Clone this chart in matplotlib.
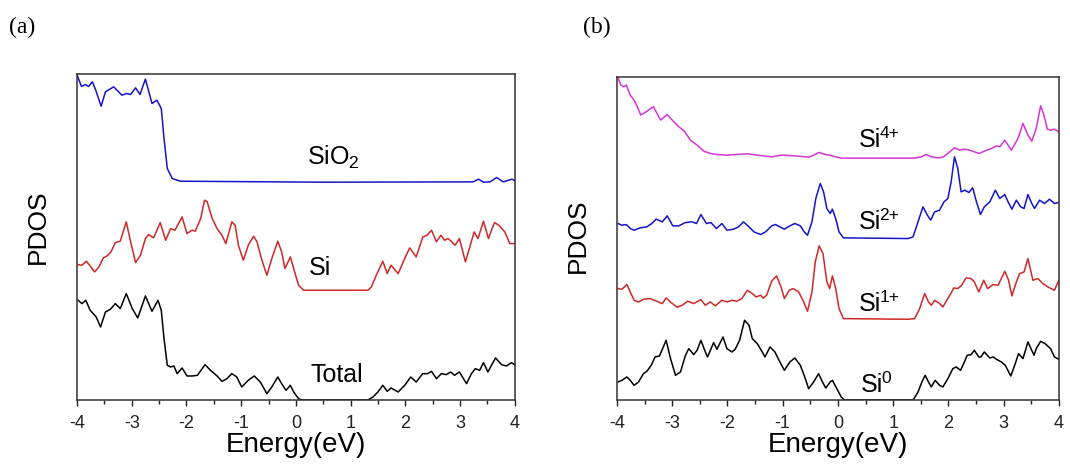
import matplotlib
matplotlib.use('Agg')
import matplotlib.pyplot as plt
from matplotlib.ticker import MultipleLocator

plt.rcParams['font.family'] = ['Liberation Sans', 'DejaVu Sans']
plt.rcParams['mathtext.fontset'] = 'custom'
plt.rcParams['mathtext.rm'] = 'Liberation Sans'
plt.rcParams['mathtext.it'] = 'Liberation Sans:italic'
plt.rcParams['axes.unicode_minus'] = False

# ---- panel (a): PDOS curves (arbitrary units, already offset) ----
sio2_e = [-4.00, -3.92, -3.85, -3.79, -3.72, -3.66, -3.56, -3.48, -3.33, -3.18,
          -3.09, -3.02, -2.93, -2.85, -2.75, -2.63, -2.54, -2.46, -2.41, -2.35,
          -2.26, -2.11, 0.50, 3.24, 3.34, 3.43, 3.55, 3.67, 3.79, 3.95, 4.00]
sio2_v = [97.5, 94.0, 94.6, 94.0, 95.4, 93.0, 88.1, 92.4, 93.9, 91.4,
          91.9, 91.6, 93.6, 91.6, 96.2, 88.9, 89.9, 87.4, 78.4, 69.4,
          66.4, 65.6, 65.3, 65.4, 66.2, 65.3, 65.4, 66.7, 65.4, 66.2, 65.8]

si_e = [-3.98, -3.91, -3.83, -3.77, -3.68, -3.60, -3.52, -3.45, -3.38, -3.30,
        -3.21, -3.10, -3.02, -2.93, -2.84, -2.75, -2.69, -2.60, -2.48, -2.38,
        -2.29, -2.21, -2.08, -1.99, -1.90, -1.84, -1.74, -1.67, -1.62, -1.53,
        -1.44, -1.35, -1.28, -1.17, -1.11, -1.05, -0.96, -0.87, -0.77, -0.71,
        -0.63, -0.53, -0.44, -0.33, -0.26, -0.20, -0.10, -0.04, 0.05, 0.14,
        1.32, 1.38, 1.47, 1.59, 1.67, 1.74, 1.87, 1.99, 2.08, 2.20,
        2.32, 2.40, 2.48, 2.57, 2.65, 2.72, 2.78, 2.84, 2.91, 2.99,
        3.10, 3.18, 3.26, 3.33, 3.43, 3.52, 3.63, 3.71, 3.82, 3.91, 4.00]
si_v = [40.6, 40.4, 41.6, 40.4, 38.4, 39.9, 42.6, 43.2, 44.4, 47.2,
        47.6, 53.4, 47.4, 41.2, 43.4, 48.4, 49.6, 48.6, 53.2, 47.9,
        51.4, 50.9, 54.9, 49.9, 50.9, 50.6, 54.4, 59.9, 59.4, 54.4,
        51.4, 49.4, 46.9, 53.4, 52.4, 46.4, 41.9, 46.4, 49.1, 47.4,
        42.4, 37.4, 42.4, 47.6, 44.4, 39.4, 42.9, 39.4, 34.4, 32.9,
        32.9, 33.9, 37.4, 41.6, 37.9, 40.4, 37.9, 42.4, 45.6, 42.9,
        48.9, 49.4, 50.9, 47.4, 49.4, 47.9, 48.4, 47.6, 46.4, 48.4,
        41.4, 45.9, 50.4, 48.4, 53.6, 48.4, 53.2, 52.4, 50.4, 46.9, 46.9]

total_e = [-3.98, -3.91, -3.84, -3.76, -3.65, -3.57, -3.48, -3.39, -3.30, -3.21,
           -3.10, -2.99, -2.89, -2.75, -2.63, -2.52, -2.46, -2.41, -2.35, -2.29,
           -2.23, -2.17, -2.08, -1.99, -1.90, -1.80, -1.66, -1.56, -1.44, -1.35,
           -1.26, -1.17, -1.08, -0.99, -0.87, -0.76, -0.65, -0.53, -0.44, -0.33,
           -0.26, -0.18, -0.10, -0.04, 0.05, 0.11, 1.32, 1.41, 1.50, 1.59,
           1.67, 1.74, 1.87, 1.99, 2.10, 2.20, 2.32, 2.41, 2.48, 2.57,
           2.66, 2.75, 2.83, 2.90, 2.99, 3.12, 3.21, 3.28, 3.36, 3.43,
           3.51, 3.65, 3.76, 3.85, 3.94, 4.00]
total_v = [29.9, 28.9, 29.9, 26.9, 24.9, 21.9, 26.4, 27.2, 28.9, 27.4,
           31.9, 27.4, 24.6, 31.2, 26.6, 29.9, 26.9, 18.4, 10.4, 9.9,
           10.2, 7.9, 9.6, 7.2, 7.2, 7.4, 10.6, 8.9, 7.2, 5.6,
           6.4, 7.9, 6.9, 3.9, 5.9, 7.2, 5.4, 1.9, 3.9, 6.9,
           4.9, 2.9, 4.4, 2.4, 0.4, 0.0, 0.0, 0.9, 2.4, 4.4,
           2.6, 3.6, 2.4, 4.4, 6.9, 5.4, 7.9, 7.9, 8.6, 6.4,
           7.9, 7.6, 8.4, 7.4, 8.4, 4.9, 7.9, 9.4, 8.9, 11.2,
           8.4, 12.6, 10.6, 10.2, 11.2, 10.6]

# ---- panel (b) ----
si4_e = [-3.98, -3.93, -3.88, -3.83, -3.76, -3.69, -3.63, -3.57, -3.49, -3.34,
         -3.21, -3.09, -3.00, -2.88, -2.78, -2.67, -2.55, -2.43, -2.31, -2.19,
         -2.01, -1.83, -1.64, -1.46, -1.31, -1.20, -1.02, -0.78, -0.53, -0.44,
         -0.34, -0.23, -0.14, -0.05, 0.07, 1.27, 1.39, 1.51, 1.60, 1.69,
         1.81, 1.90, 1.99, 2.11, 2.20, 2.29, 2.38, 2.47, 2.56, 2.65,
         2.78, 2.87, 2.93, 3.02, 3.14, 3.26, 3.35, 3.44, 3.51, 3.59,
         3.67, 3.73, 3.79, 3.86, 3.92, 4.00]
si4_v = [96.6, 94.4, 93.9, 94.4, 91.4, 89.9, 87.9, 85.4, 86.2, 87.9,
         83.9, 85.6, 83.9, 81.9, 80.6, 77.9, 76.4, 74.6, 73.9, 73.6,
         73.4, 73.6, 73.8, 73.4, 73.1, 72.9, 73.4, 73.2, 72.8, 73.4,
         74.2, 73.6, 73.4, 72.9, 72.5, 72.5, 72.5, 72.9, 73.6, 72.9,
         72.6, 72.8, 73.9, 75.6, 74.9, 75.2, 74.9, 74.4, 73.9, 74.6,
         75.4, 76.2, 75.9, 77.9, 74.9, 78.4, 82.9, 79.4, 77.6, 81.4,
         88.2, 85.4, 81.2, 80.9, 81.2, 80.4]

si2_e = [-3.98, -3.91, -3.83, -3.76, -3.69, -3.58, -3.46, -3.37, -3.29, -3.18,
         -3.09, -2.99, -2.88, -2.76, -2.64, -2.56, -2.48, -2.38, -2.30, -2.20,
         -2.10, -2.01, -1.89, -1.80, -1.71, -1.61, -1.52, -1.40, -1.31, -1.20,
         -1.13, -1.05, -0.97, -0.87, -0.78, -0.68, -0.61, -0.55, -0.47, -0.40,
         -0.32, -0.26, -0.20, -0.14, -0.10, -0.04, 0.02, 0.10, 1.27, 1.36,
         1.45, 1.54, 1.62, 1.68, 1.75, 1.84, 1.92, 1.99, 2.05, 2.11,
         2.17, 2.23, 2.30, 2.37, 2.44, 2.50, 2.58, 2.65, 2.75, 2.85,
         2.93, 3.02, 3.08, 3.15, 3.23, 3.31, 3.37, 3.44, 3.51, 3.56,
         3.65, 3.74, 3.83, 3.92, 4.00]
si2_v = [52.9, 52.4, 52.6, 51.4, 50.9, 51.6, 51.9, 52.9, 54.2, 53.4,
         55.2, 52.2, 52.2, 53.2, 53.4, 52.9, 55.6, 52.9, 53.2, 51.4,
         52.9, 50.9, 51.2, 51.9, 53.4, 51.9, 50.4, 49.6, 50.4, 52.2,
         52.6, 51.9, 51.2, 52.2, 52.9, 52.2, 50.4, 49.4, 53.4, 60.4,
         64.9, 62.4, 57.4, 55.9, 57.2, 54.4, 50.4, 48.6, 48.4, 48.9,
         53.4, 57.9, 55.4, 53.9, 56.4, 56.9, 59.4, 60.4, 65.4, 72.9,
         69.4, 62.4, 62.9, 62.2, 63.6, 59.9, 55.6, 57.9, 59.4, 62.9,
         60.4, 61.6, 59.4, 57.2, 59.9, 57.9, 57.4, 61.6, 58.9, 57.4,
         59.9, 58.9, 60.2, 58.9, 59.2]

si1_e = [-3.98, -3.91, -3.82, -3.76, -3.69, -3.61, -3.52, -3.40, -3.28, -3.18,
         -3.11, -3.02, -2.91, -2.82, -2.72, -2.61, -2.48, -2.40, -2.31, -2.22,
         -2.10, -2.01, -1.92, -1.83, -1.74, -1.64, -1.55, -1.48, -1.40, -1.35,
         -1.29, -1.20, -1.11, -1.03, -0.97, -0.88, -0.81, -0.71, -0.62, -0.55,
         -0.47, -0.41, -0.34, -0.27, -0.20, -0.15, -0.10, -0.04, 0.02, 0.10,
         1.27, 1.39, 1.48, 1.57, 1.64, 1.69, 1.75, 1.84, 1.90, 1.99,
         2.10, 2.17, 2.24, 2.32, 2.41, 2.47, 2.55, 2.64, 2.71, 2.81,
         2.90, 3.02, 3.09, 3.15, 3.23, 3.29, 3.37, 3.44, 3.53, 3.62,
         3.71, 3.80, 3.92, 4.00]
si1_v = [33.4, 33.2, 34.6, 32.4, 29.9, 29.4, 30.2, 30.4, 29.6, 28.9,
         30.6, 29.2, 27.8, 28.4, 29.6, 28.9, 30.1, 28.4, 29.4, 28.2,
         29.9, 29.4, 29.9, 29.6, 30.4, 32.9, 31.9, 30.9, 31.4, 30.5,
         31.4, 35.6, 37.2, 33.9, 30.4, 32.9, 33.4, 32.4, 29.4, 26.6,
         32.4, 41.4, 46.2, 43.9, 35.4, 33.4, 37.2, 33.4, 27.4, 24.4,
         24.2, 24.4, 27.4, 31.9, 29.4, 28.4, 29.9, 28.9, 27.9, 30.4,
         33.6, 33.4, 34.4, 36.6, 36.4, 35.4, 32.4, 35.9, 33.4, 34.6,
         34.4, 38.6, 35.9, 31.2, 35.4, 37.9, 38.4, 42.4, 35.9, 36.4,
         34.9, 33.9, 32.9, 35.9]

si0_e = [-3.98, -3.91, -3.82, -3.76, -3.69, -3.61, -3.52, -3.46, -3.38, -3.31,
         -3.23, -3.11, -3.03, -2.94, -2.85, -2.76, -2.70, -2.61, -2.55, -2.48,
         -2.40, -2.36, -2.25, -2.19, -2.08, -2.01, -1.92, -1.86, -1.78, -1.69,
         -1.61, -1.55, -1.46, -1.37, -1.32, -1.23, -1.14, -1.05, -0.97, -0.87,
         -0.78, -0.68, -0.59, -0.53, -0.44, -0.35, -0.28, -0.22, -0.14, -0.10,
         -0.02, 0.06, 0.12, 1.27, 1.36, 1.45, 1.52, 1.58, 1.64, 1.69,
         1.76, 1.84, 1.90, 1.99, 2.08, 2.14, 2.22, 2.29, 2.34, 2.41,
         2.47, 2.55, 2.59, 2.65, 2.75, 2.81, 2.87, 2.96, 3.03, 3.13,
         3.20, 3.27, 3.35, 3.44, 3.55, 3.59, 3.67, 3.75, 3.85, 3.92, 4.00]
si0_v = [5.4, 5.9, 6.9, 5.9, 4.4, 5.4, 7.9, 8.6, 10.4, 12.9,
         13.2, 17.9, 12.4, 7.4, 8.4, 13.4, 15.4, 13.6, 14.9, 17.9,
         14.4, 12.9, 17.2, 15.2, 18.9, 15.4, 14.4, 15.2, 17.9, 23.9,
         22.4, 18.4, 16.9, 14.4, 12.9, 15.9, 14.4, 11.4, 8.9, 11.4,
         12.6, 10.4, 6.4, 3.4, 5.4, 7.9, 5.4, 3.6, 5.4, 5.9,
         3.4, 0.9, 0.0, 0.0, 0.0, 2.4, 5.4, 7.4, 5.4, 3.9,
         5.9, 4.4, 3.9, 6.4, 9.4, 9.9, 8.9, 11.4, 13.4, 13.6,
         14.9, 12.9, 12.9, 14.4, 12.6, 12.9, 12.2, 11.4, 10.4, 7.2,
         10.4, 13.9, 12.4, 17.4, 13.4, 15.4, 17.6, 16.9, 15.4, 12.9, 12.2]

# oxidation-state labels of panel (b)
states = ['4+', '2+', '1+', '0']


def style_axis(ax, ytop):
    ax.set_xlim(-4, 4)
    ax.set_ylim(0, ytop)
    ax.xaxis.set_major_locator(MultipleLocator(1))
    ax.xaxis.set_minor_locator(MultipleLocator(0.5))
    ax.set_yticks([])
    ax.tick_params(axis='x', which='major', direction='out', length=4.5,
                   width=1, labelsize=13, pad=6, colors='#222222')
    ax.tick_params(axis='x', which='minor', direction='out', length=3, width=1,
                   colors='#222222')
    for sp in ax.spines.values():
        sp.set_linewidth(1.1)
        sp.set_color('#333333')
    ax.set_xlabel('Energy(eV)', fontsize=20, labelpad=0)
    ax.set_ylabel('PDOS', fontsize=19)


def si_label(ax, x, y, sup):
    # "Si" with a raised charge state, placed by its baseline
    ax.text(x, y, 'Si', fontsize=18, ha='left', va='baseline')
    ax.annotate(sup, xy=(x, y), xytext=(15.2, 6.5), textcoords='offset points',
                fontsize=12.5, ha='left', va='baseline')


fig = plt.figure(figsize=(10.7, 4.68), dpi=100)

# (a)
ax1 = fig.add_axes([0.072, 0.1453, 0.409, 0.697])
ax1.plot(sio2_e, sio2_v, color='#1414C8', lw=1.1)
ax1.plot(si_e, si_v, color='#D02828', lw=1.1)
ax1.plot(total_e, total_v, color='black', lw=1.1)
ax1.text(0.68, 72.6, 'SiO$_2$', fontsize=18, ha='center', va='center')
ax1.text(0.44, 39.6, 'Si', fontsize=18, ha='center', va='center')
ax1.text(0.75, 7.5, 'Total', fontsize=18, ha='center', va='center')
style_axis(ax1, 97.8)
ax1.yaxis.set_label_coords(-0.062, 0.53)

# (b)
ax2 = fig.add_axes([0.5766, 0.1453, 0.413, 0.690])
ax2.plot(si4_e, si4_v, color='#D535D5', lw=1.1)
ax2.plot(si2_e, si2_v, color='#1414C8', lw=1.1)
ax2.plot(si1_e, si1_v, color='#D02828', lw=1.1)
ax2.plot(si0_e, si0_v, color='black', lw=1.1)
label_x = [0.37, 0.37, 0.38, 0.41]
label_y = [75.8, 51.2, 26.8, 2.5]
for st, lx, ly in zip(states, label_x, label_y):
    si_label(ax2, lx, ly, st)
style_axis(ax2, 96.8)
ax2.yaxis.set_label_coords(-0.061, 0.51)

fig.text(0.021, 0.942, '(a)', fontsize=17, family='Liberation Serif',
         ha='center', va='center')
fig.text(0.558, 0.942, '(b)', fontsize=17, family='Liberation Serif',
         ha='center', va='center')

fig.savefig('out.png', dpi=100)
